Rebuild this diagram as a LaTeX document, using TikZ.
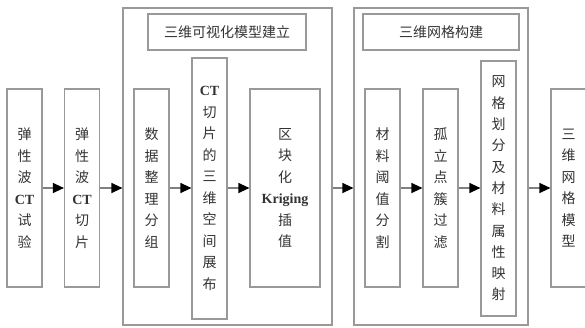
\documentclass[tikz,border=0pt]{standalone}
\usepackage{fontspec}
\setmainfont{Liberation Serif}
\newfontfamily\cjk{Noto Sans CJK SC}
\usetikzlibrary{arrows.meta}
\newcommand{\lat}[1]{{\rmfamily\bfseries #1}}
\begin{document}
\begin{tikzpicture}[x=1pt,y=-1pt,
  box/.style={draw=black!40, line width=1.2pt, inner sep=0pt, align=center,
    font=\fontsize{14}{21.5}\selectfont\cjk, text=black!80, minimum width=35pt},
  grp/.style={draw=black!40, line width=1.2pt, inner sep=0pt, minimum height=317pt},
  ttl/.style={draw=black!40, line width=1.2pt, inner sep=0pt, minimum height=36pt,
    font=\fontsize{14}{16}\selectfont\cjk, text=black!80},
  arr/.style={draw=black!50, line width=1.2pt, -{Triangle[length=11pt,width=10pt,fill=black,color=black]}}
]
\useasboundingbox (0,0) rectangle (585,327);
\begin{scope}
\clip (0,0) rectangle (585,327);
\node[grp, minimum width=209pt] (g1) at (227.5,166.5) {};
\node[grp, minimum width=174pt] (g2) at (441,166.5) {};
\node[ttl, minimum width=158pt] (t1) at (227,32) {三维可视化模型建立};
\node[ttl, minimum width=156pt] (t2) at (441,32) {三维网格构建};
\node[box, minimum height=198pt] (b1) at (24.5,188) {弹\\性\\波\\\lat{CT}\\试\\验};
\node[box, minimum height=198pt] (b2) at (82,188) {弹\\性\\波\\\lat{CT}\\切\\片};
\node[box, minimum height=198pt] (b3) at (151.5,188) {数\\据\\整\\理\\分\\组};
\node[box, minimum height=261pt] (b4) at (209.5,188.5) {\lat{CT}\\切\\片\\的\\三\\维\\空\\间\\展\\布};
\node[box, minimum height=198pt, minimum width=70pt] (b5) at (285,188) {区\\块\\化\\\lat{Kriging}\\插\\值};
\node[box, minimum height=198pt] (b6) at (382.5,188) {材\\料\\阈\\值\\分\\割};
\node[box, minimum height=198pt] (b7) at (440.5,188) {孤\\立\\点\\簇\\过\\滤};
\node[box, minimum height=255pt, font=\fontsize{14}{21.3}\selectfont\cjk] (b8) at (498.5,188.5) {网\\格\\划\\分\\及\\材\\料\\属\\性\\映\\射};
\node[box, minimum height=198pt] (b9) at (568.5,188) {三\\维\\网\\格\\模\\型};
\end{scope}
\draw[arr] (b1.east) -- (b2.west);
\draw[arr] (b2.east) -- (g1.west |- b2.east);
\draw[arr] (b3.east) -- (b4.west |- b3.east);
\draw[arr] (b4.east |- b3.east) -- (b5.west);
\draw[arr] (g1.east |- b5.east) -- (g2.west |- b5.east);
\draw[arr] (b6.east) -- (b7.west);
\draw[arr] (b7.east) -- (b8.west |- b7.east);
\draw[arr] (g2.east |- b9.west) -- (b9.west);
\end{tikzpicture}
\end{document}
